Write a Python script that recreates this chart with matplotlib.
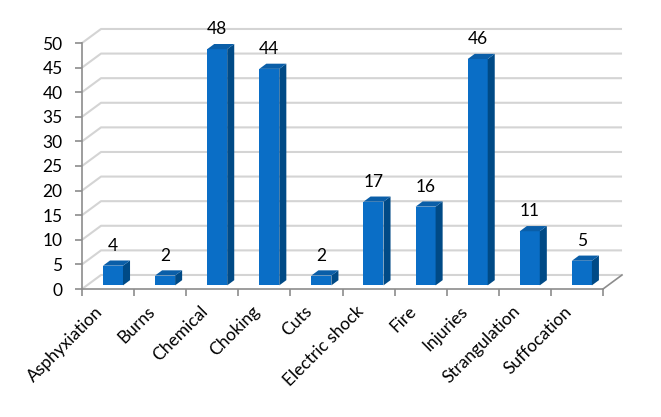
import matplotlib
matplotlib.use("Agg")
import matplotlib.pyplot as plt
from matplotlib.patches import Polygon
from matplotlib.transforms import ScaledTranslation
import numpy as np

categories = ["Asphyxiation", "Burns", "Chemical", "Choking", "Cuts",
              "Electric shock", "Fire", "Injuries", "Strangulation", "Suffocation"]
values = [4, 2, 48, 44, 2, 17, 16, 46, 11, 5]
yticks = [0, 5, 10, 15, 20, 25, 30, 35, 40, 45, 50]

plt.rcParams['font.family'] = ['Lato', 'DejaVu Sans']

FRONT = "#0A6EC6"
TOP = "#0A5EA8"
SIDE = "#004A86"
GRID = "#D4D4D4"
AXIS = "#8C8C8C"

fig = plt.figure(figsize=(6.61, 4.17), dpi=100)
ax = fig.add_axes([82/661, (417-289)/417, 521/661, 246/417])
ax.set_xlim(-0.5, 9.5)
ax.set_ylim(0, 50)

# depth offset in data units
dx, dy = 0.365, 2.85
f0, f1 = 0.26, 0.63
w = 0.384

# walls / gridlines
x0, x1 = -0.5, 9.5
for v in yticks:
    ax.plot([x0, x0 + dx, x1 + dx], [v, v + dy, v + dy], color=GRID, lw=1.5,
            clip_on=False, zorder=1, solid_capstyle='butt')
ax.plot([x1, x1 + dx], [0, dy], color=AXIS, lw=1.2, clip_on=False, zorder=1)

# bars
xs = np.arange(len(categories))
xf = xs + f0 * dx
base = f0 * dy
ddx, ddy = (f1 - f0) * dx, (f1 - f0) * dy
ax.bar(xf, values, width=w, bottom=base, color=FRONT, zorder=3, clip_on=False)
for xc, v in zip(xf, values):
    xl, xr = xc - w / 2, xc + w / 2
    top = base + v
    ax.add_patch(Polygon([(xr, base), (xr + ddx, base + ddy), (xr + ddx, top + ddy), (xr, top)],
                         closed=True, facecolor=SIDE, edgecolor='none', zorder=3, clip_on=False))
    ax.add_patch(Polygon([(xl, top), (xr, top), (xr + ddx, top + ddy), (xl + ddx, top + ddy)],
                         closed=True, facecolor=TOP, edgecolor='none', zorder=3, clip_on=False))
    ax.annotate(str(v), (xc, top), xytext=(0, 10.8), textcoords='offset points',
                ha='center', va='baseline', fontsize=12.5, color='black', zorder=5,
                annotation_clip=False)

# spines and ticks
for s in ['top', 'right']:
    ax.spines[s].set_visible(False)
for s in ['left', 'bottom']:
    ax.spines[s].set_color(AXIS)
    ax.spines[s].set_linewidth(1.2)
    ax.spines[s].set_zorder(4)

ax.set_yticks(yticks)
ax.set_yticklabels([str(t) for t in yticks])
ax.tick_params(axis='y', direction='out', length=5, width=1.2, color=AXIS,
               pad=9, labelsize=12.5)
ax.set_xticks(xs)
ax.set_xticklabels(categories, rotation=45, ha='right', rotation_mode='anchor')
ax.set_xticks(np.arange(-0.5, 10, 1), minor=True)
ax.tick_params(axis='x', which='major', length=0, pad=11, labelsize=12.5)
ax.tick_params(axis='x', which='minor', direction='out', length=5, width=1.2, color=AXIS)
shift = ScaledTranslation(-13/100, 1/100, fig.dpi_scale_trans)
for lab in ax.get_xticklabels():
    lab.set_transform(lab.get_transform() + shift)
ax.patch.set_visible(False)

fig.savefig("out.png", dpi=100)
